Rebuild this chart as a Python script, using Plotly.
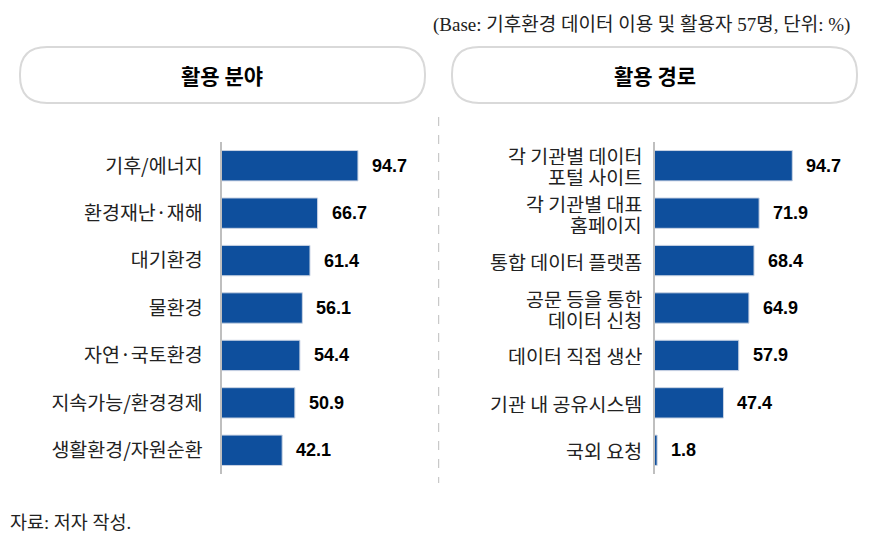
import plotly.graph_objects as go

OFF = 8  # browser default body margin
W, H = 879 - OFF, 539 - OFF

left_title = "활용 분야"
left_cats = ["기후/에너지", "환경재난·재해", "대기환경", "물환경", "자연·국토환경", "지속가능/환경경제", "생활환경/자원순환"]
left_vals = [94.7, 66.7, 61.4, 56.1, 54.4, 50.9, 42.1]

right_title = "활용 경로"
right_cats = ["각 기관별 데이터<br>포털 사이트", "각 기관별 대표<br>홈페이지", "통합 데이터 플랫폼", "공문 등을 통한<br>데이터 신청",
              "데이터 직접 생산", "기관 내 공유시스템", "국외 요청"]
right_vals = [94.7, 71.9, 68.4, 64.9, 57.9, 47.4, 1.8]

header = "(Base: 기후환경 데이터 이용 및 활용자 57명, 단위: %)"
footer = "자료: 저자 작성."

BAR = "#0E4F9D"
KFONT = "Noto Sans CJK KR"
CAT_SIZE = 19.5
VAL_FONT = dict(family="Liberation Sans, Arial", size=18, color="#000")


def px(x):
    return (x - OFF) / W


def py(y):
    return 1 - (y - OFF) / H


fig = go.Figure()
fig.add_trace(go.Bar(x=left_vals, y=left_cats, orientation="h", xaxis="x", yaxis="y",
                     marker=dict(color=BAR, line=dict(color="#c9d3e3", width=1)), width=0.64,
                     hoverinfo="skip"))
fig.add_trace(go.Bar(x=right_vals, y=right_cats, orientation="h", xaxis="x2", yaxis="y2",
                     marker=dict(color=BAR, line=dict(color="#c9d3e3", width=1)), width=0.64,
                     hoverinfo="skip"))

ann = []
for c, v in zip(left_cats, left_vals):
    ann.append(dict(x=v, y=c, xref="x", yref="y", text=f"<b>{v:.1f}</b>", showarrow=False,
                    xanchor="left", xshift=12, font=VAL_FONT))
for c, v in zip(right_cats, right_vals):
    ann.append(dict(x=v, y=c, xref="x2", yref="y2", text=f"<b>{v:.1f}</b>", showarrow=False,
                    xanchor="left", xshift=12, font=VAL_FONT))
    # category label, one annotation per line for tight line spacing (as in the reference)
    lines = c.split("<br>")
    n = len(lines)
    for i, ln in enumerate(lines):
        ann.append(dict(x=0, y=c, xref="x2", yref="y2", text=ln, showarrow=False,
                        xanchor="right", yanchor="middle", xshift=-12,
                        yshift=((n - 1) / 2 - i) * 21, height=20, borderpad=0,
                        font=dict(family=KFONT, size=CAT_SIZE, color="#222")))

ann.append(dict(x=px(852), y=py(25), xref="paper", yref="paper", text=header, showarrow=False,
                xanchor="right", yanchor="middle",
                font=dict(family="Liberation Serif, " + KFONT, size=19, color="#222")))
ann.append(dict(x=px(8), y=py(523), xref="paper", yref="paper", text=footer, showarrow=False,
                xanchor="left", yanchor="middle",
                font=dict(family="Liberation Serif, " + KFONT, size=18.5, color="#222")))
ann.append(dict(x=px(222), y=py(75), xref="paper", yref="paper", text=f"<b>{left_title}</b>", showarrow=False,
                xanchor="center", yanchor="middle", font=dict(family=KFONT, size=21, color="#000")))
ann.append(dict(x=px(655), y=py(75), xref="paper", yref="paper", text=f"<b>{right_title}</b>", showarrow=False,
                xanchor="center", yanchor="middle", font=dict(family=KFONT, size=21, color="#000")))


def rounded(x0, y0, x1, y1, r):
    pts = [
        ("M", px(x0 + r), py(y0)),
        ("L", px(x1 - r), py(y0)),
        ("Q", px(x1), py(y0), px(x1), py(y0 + r)),
        ("L", px(x1), py(y1 - r)),
        ("Q", px(x1), py(y1), px(x1 - r), py(y1)),
        ("L", px(x0 + r), py(y1)),
        ("Q", px(x0), py(y1), px(x0), py(y1 - r)),
        ("L", px(x0), py(y0 + r)),
        ("Q", px(x0), py(y0), px(x0 + r), py(y0)),
    ]
    s = ""
    for p in pts:
        s += p[0] + " " + " ".join(f"{v:.5f}" for v in p[1:]) + " "
    return s + "Z"


shapes = [
    dict(type="path", xref="paper", yref="paper", path=rounded(20, 47, 425, 103, 27),
         line=dict(color="#d9d9d9", width=2), fillcolor="white", layer="below"),
    dict(type="path", xref="paper", yref="paper", path=rounded(452, 47, 857, 103, 27),
         line=dict(color="#d9d9d9", width=2), fillcolor="white", layer="below"),
    dict(type="line", xref="paper", yref="paper", x0=px(438.7), x1=px(438.7), y0=py(117), y1=py(483),
         line=dict(color="#bdbdbd", width=1, dash="dash")),
]

ydom = [py(474), py(142)]
common_y = dict(domain=ydom, type="category", range=[6.5, -0.5], showgrid=False, zeroline=False,
                showline=True, linecolor="#bfbfbf", linewidth=2, ticks="", ticklabelstandoff=13,
                tickfont=dict(family=KFONT, size=CAT_SIZE, color="#222"), fixedrange=True)
common_x = dict(range=[0, 100], showgrid=False, zeroline=False, showline=False, showticklabels=False,
                fixedrange=True)

fig.update_layout(
    width=W, height=H, margin=dict(l=0, r=0, t=0, b=0),
    paper_bgcolor="white", plot_bgcolor="white", showlegend=False,
    xaxis=dict(domain=[px(221.5), px(365.6)], anchor="y", **common_x),
    yaxis=dict(anchor="x", **common_y),
    xaxis2=dict(domain=[px(654.5), px(800)], anchor="y2", **common_x),
    yaxis2=dict(anchor="x2", showticklabels=False, **common_y),
    annotations=ann, shapes=shapes, bargap=0.36,
)

fig.write_html("out.html")
